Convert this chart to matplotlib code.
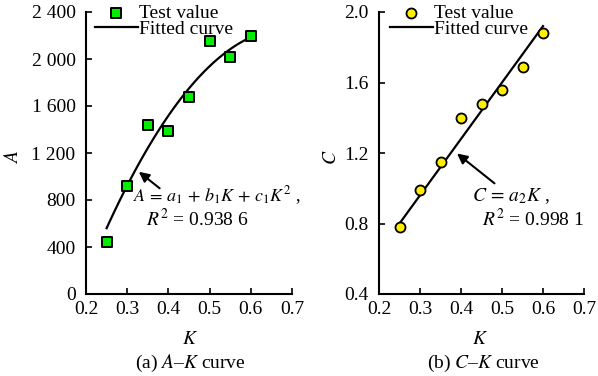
import matplotlib
matplotlib.use("Agg")
import matplotlib.pyplot as plt
import numpy as np

plt.rcParams['font.family'] = ['Liberation Serif', 'DejaVu Serif']
plt.rcParams['mathtext.fontset'] = 'stix'

# Data
K = [0.25, 0.30, 0.35, 0.40, 0.45, 0.50, 0.55, 0.60]
A_test = [440, 920, 1440, 1390, 1675, 2150, 2015, 2195]
C_test = [0.78, 0.99, 1.15, 1.40, 1.48, 1.56, 1.69, 1.88]
# fitted coefficients
a1, b1, c1 = -1908.0, 12050.0, -8714.0
a2 = 3.2
x_ticks = [0.2, 0.3, 0.4, 0.5, 0.6, 0.7]
A_ticks = [0, 400, 800, 1200, 1600, 2000, 2400]
A_ticklabels = ['0', '400', '800', '1 200', '1 600', '2 000', '2 400']
C_ticks = [0.4, 0.8, 1.2, 1.6, 2.0]
C_ticklabels = ['0.4', '0.8', '1.2', '1.6', '2.0']

W, H = 598, 376
fig = plt.figure(figsize=(W/100, H/100), dpi=100)
ax1 = fig.add_axes([86/W, 1-294/H, 206/W, 282/H])
ax2 = fig.add_axes([379/W, 1-294/H, 205/W, 282/H])

Kf = np.linspace(K[0], K[-1], 100)

fs = 14
for ax in (ax1, ax2):
    ax.spines['top'].set_visible(False)
    ax.spines['right'].set_visible(False)
    ax.spines['left'].set_linewidth(1.5)
    ax.spines['bottom'].set_linewidth(1.5)
    ax.tick_params(direction='in', length=4, width=1.2, labelsize=fs)
    ax.tick_params(axis='y', pad=7.5)
    ax.tick_params(axis='x', pad=5)
    ax.set_xlim(0.2, 0.7)
    ax.set_xticks(x_ticks)
    ax.set_xticklabels([f'{v:.1f}' for v in x_ticks])

def make_legend(ax, left_px):
    h, l = ax.get_legend_handles_labels()
    ax.legend(h[::-1], l[::-1], loc='upper left',
              bbox_to_anchor=(left_px/W, 1-4/H), bbox_transform=fig.transFigure,
              frameon=False, fontsize=fs, handlelength=2.2, handletextpad=0.05,
              labelspacing=-0.05, borderaxespad=0, borderpad=0)

# (a)
ax1.plot(Kf, a1 + b1*Kf + c1*Kf**2, color='black', lw=1.6, label='Fitted curve', zorder=2)
ax1.scatter(K, A_test, marker='s', s=46, facecolor='#00ee00', edgecolor='black', linewidths=1.4,
            label='Test value', zorder=3)
ax1.set_ylim(0, 2400)
ax1.set_yticks(A_ticks)
ax1.set_yticklabels(A_ticklabels)
ax1.set_xlabel('$K$', fontsize=fs, va='center')
ax1.xaxis.set_label_coords((190-86)/206, (294-340)/282)
ax1.set_ylabel('$A$', fontsize=fs, va='center')
ax1.yaxis.set_label_coords((13-86)/206, (294-157)/282)
ax1.annotate('', xy=(0.323, 1055), xytext=(0.384, 885),
             arrowprops=dict(arrowstyle='-|>', color='black', lw=1.5, mutation_scale=15))
ax1.text(0.314, 840, r'$A\,=\,a_1\,+\,b_1K\,+\,c_1K^2$ ,', fontsize=13, ha='left', va='center')
ax1.text(0.3456, 640, r'$R^2$ = 0.938 6', fontsize=fs, ha='left', va='center')
make_legend(ax1, 95)
fig.text(190/W, 1-363/H, '(a) $A$–$K$ curve', ha='center', va='center', fontsize=fs)

# (b)
ax2.plot(Kf, a2*Kf, color='black', lw=1.6, label='Fitted curve', zorder=2)
ax2.scatter(K, C_test, marker='o', s=52, facecolor='#ffee00', edgecolor='black', linewidths=1.3,
            label='Test value', zorder=3)
ax2.set_ylim(0.4, 2.0)
ax2.set_yticks(C_ticks)
ax2.set_yticklabels(C_ticklabels)
ax2.set_xlabel('$K$', fontsize=fs, va='center')
ax2.xaxis.set_label_coords((480-379)/205, (294-340)/282)
ax2.set_ylabel('$C$', fontsize=fs, va='center')
ax2.yaxis.set_label_coords((331.7-379)/205, (294-157)/282)
ax2.annotate('', xy=(0.385, 1.207), xytext=(0.487, 1.018),
             arrowprops=dict(arrowstyle='-|>', color='black', lw=1.5, mutation_scale=15))
ax2.text(0.426, 0.955, r'$C\,=\,a_2K$ ,', fontsize=fs, ha='left', va='center')
ax2.text(0.4505, 0.825, r'$R^2$ = 0.998 1', fontsize=fs, ha='left', va='center')
make_legend(ax2, 390)
fig.text(483/W, 1-363/H, '(b) $C$–$K$ curve', ha='center', va='center', fontsize=fs)

fig.savefig('out.png', dpi=100)
